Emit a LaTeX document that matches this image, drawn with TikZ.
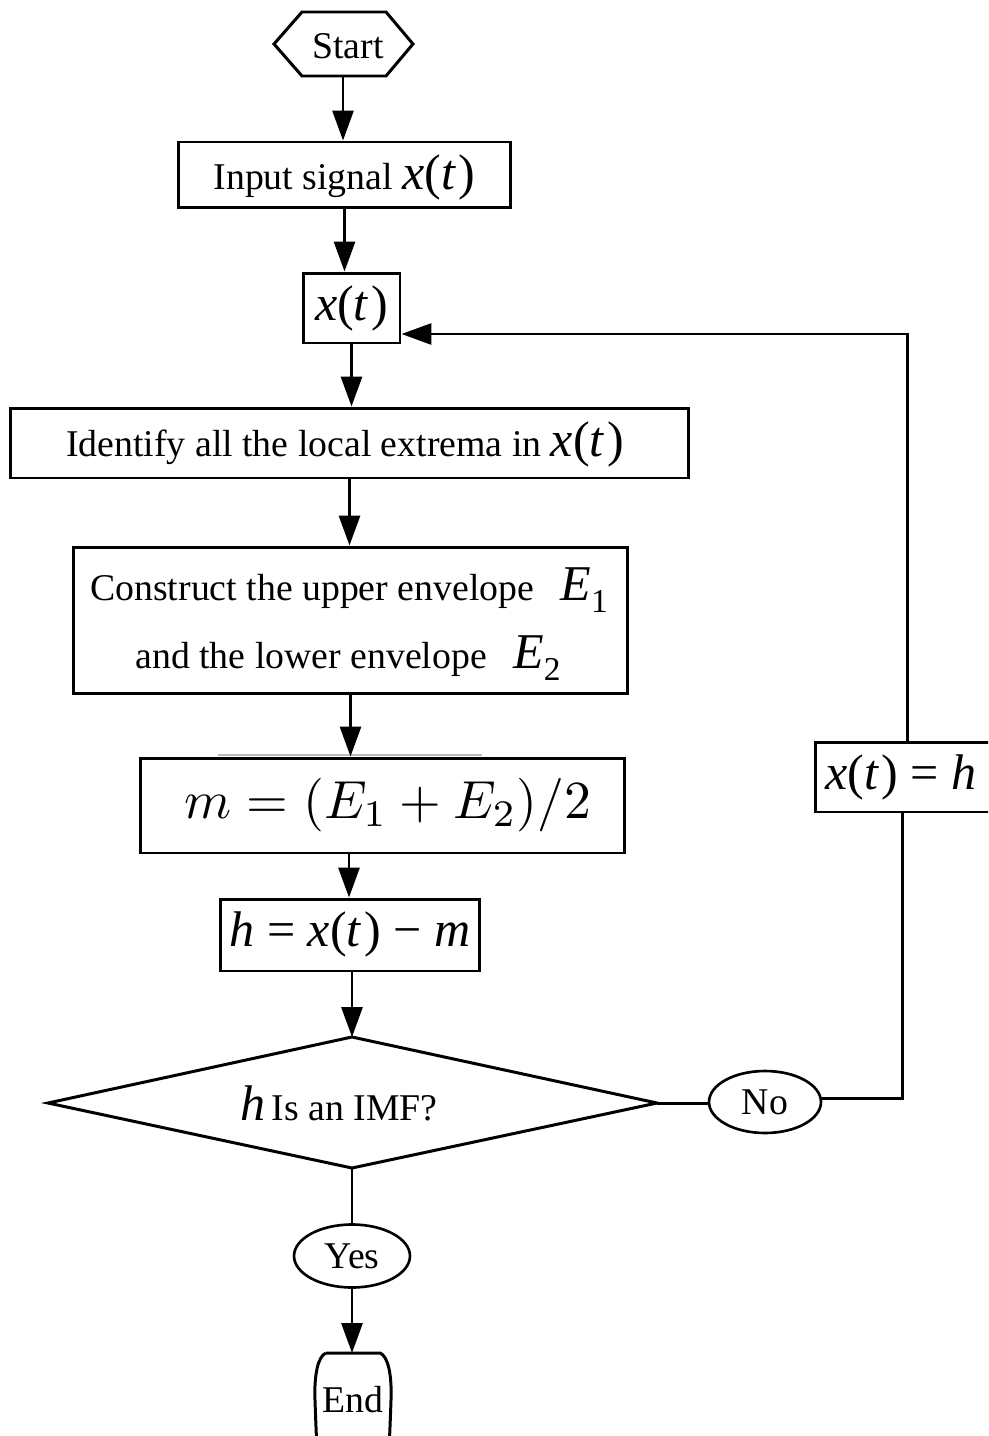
\documentclass[tikz,border=0pt]{standalone}
\usepackage{graphicx}
\usepackage[no-math]{fontspec}
\setmainfont{Liberation Serif}
\usetikzlibrary{arrows.meta,calc,shapes.geometric}
\newcommand{\tmi}[1]{{\fontsize{28.5}{30}\selectfont #1}}
\newcommand{\xt}{\tmi{\textit{x}(\textit{t}\kern0.05em)}}
\newcommand{\Esub}[1]{\tmi{\textit{E}}\raisebox{-0.3em}{\fontsize{19}{20}\selectfont #1}}
\begin{document}
\begin{tikzpicture}[x=0.02cm,y=-0.02cm,
  every node/.style={font=\fontsize{21.5}{25}\selectfont, inner sep=0pt},
  box/.style={draw, line width=1.7pt, rectangle},
  oval/.style={draw, line width=1.5pt, ellipse},
  ln/.style={line width=1.7pt},
  arr/.style={line width=1.7pt, -{Triangle[length=0.6cm,width=0.42cm]}}]
\clip (0,0) rectangle (988,1436);
\fill[white] (0,0) rectangle (988,1436);
% Start hexagon
\coordinate (s1) at (274,44); \coordinate (s2) at (302,12); \coordinate (s3) at (386,12);
\coordinate (s4) at (413,44); \coordinate (s5) at (386,76); \coordinate (s6) at (302,76);
\draw[ln, line join=miter] (s1) -- (s2) -- (s3) -- (s4) -- (s5) -- (s6) -- cycle;
\node (start) at (348,46) {Start};
\coordinate (startb) at (343,76);
% boxes
\node[box, minimum width=6.66cm, minimum height=1.32cm] (inp) at (344.5,175) {};
\node (inptext) at (344.5,177) {Input signal \xt};
\node[box, minimum width=1.94cm, minimum height=1.4cm] (xt) at (351.5,308) {\xt};
\node[box, minimum width=13.58cm, minimum height=1.4cm] (ident) at (349.5,443) {};
\node (identtext) at (345,444) {Identify all the local extrema in \xt};
\node[box, minimum width=11.1cm, minimum height=2.94cm] (cons) at (350.5,620.5) {};
\node (cons1) at (349,590) {Construct the upper envelope\hspace{0.7em}\Esub{1}};
\node (cons2) at (348,658) {and the lower envelope\hspace{0.7em}\Esub{2}};
\draw[gray!55, line width=0.9pt] (218,755) -- (482,755);
\node[box, minimum width=9.7cm, minimum height=1.9cm] (mbox) at (382.5,805.5) {};
\node (mtext) at (388,805) {\fontsize{10}{12}\selectfont\scalebox{3.05}{$m=(E_1+E_2)/2$}};
\node[box, minimum width=5.2cm, minimum height=1.44cm] (hbox) at (350,935) {};
\node (htext) at (350,934) {\tmi{\textit{h} = \textit{x}(\textit{t}\kern0.05em) − \textit{m}}};
% diamond
\coordinate (dl) at (48,1103); \coordinate (dt) at (352,1037);
\coordinate (dr) at (657,1103); \coordinate (db) at (352,1168);
\draw[ln, line join=miter] (dl) -- (dt) -- (dr) -- (db) -- cycle;
\node (dtext) at (339,1103) {\tmi{\textit{h}}\,Is an IMF?};
% No / Yes
\node[oval, minimum width=2.24cm, minimum height=1.24cm] (no) at (765,1102) {No};
\node[oval, minimum width=2.32cm, minimum height=1.26cm] (yes) at (352,1256) {Yes};
% x(t)=h box
\node[box, minimum width=3.7cm, minimum height=1.4cm] (xth) at (907.5,777) {};
\node (xthtext) at (901,777) {\tmi{\textit{x}(\textit{t}\kern0.05em) = \textit{h}}};
% End
\coordinate (e1) at (326,1353); \coordinate (e2) at (380,1353);
\draw[ln] (e1) -- (e2) .. controls (388,1356) and (392,1375) .. (391,1400)
  .. controls (390,1430) and (389,1450) .. (388,1470)
  -- (318,1470) .. controls (317,1450) and (316,1430) .. (315,1400)
  .. controls (314,1375) and (318,1356) .. (e1);
\node (endn) at (353,1400) {End};
% connectors
\draw[arr] (startb) -- (startb |- inp.north);
\draw[arr] (inp.south) -- (inp.south |- xt.north);
\draw[arr] (xt.south) -- (xt.south |- ident.north);
\draw[arr] (ident.south) -- (ident.south |- cons.north);
\draw[arr] (cons.south) -- (cons.south |- mbox.north);
\coordinate (mh) at (349,853);
\draw[arr] (mh) -- (mh |- hbox.north);
\draw[arr] (hbox.south -| dt) -- (dt);
\draw[ln] (db) -- (db |- yes.north);
\draw[arr] (yes.south) -- (yes.south |- e1);
\draw[ln] (dr) -- (dr -| no.west);
\coordinate (c1) at (902,1098);
\coordinate (c2) at (907,334);
\draw[ln] (no.east |- c1) -- (c1) -- (c1 |- xth.south);
\draw[arr] (c2 |- xth.north) -- (c2) -- (xt.east |- c2);
\end{tikzpicture}
\end{document}
